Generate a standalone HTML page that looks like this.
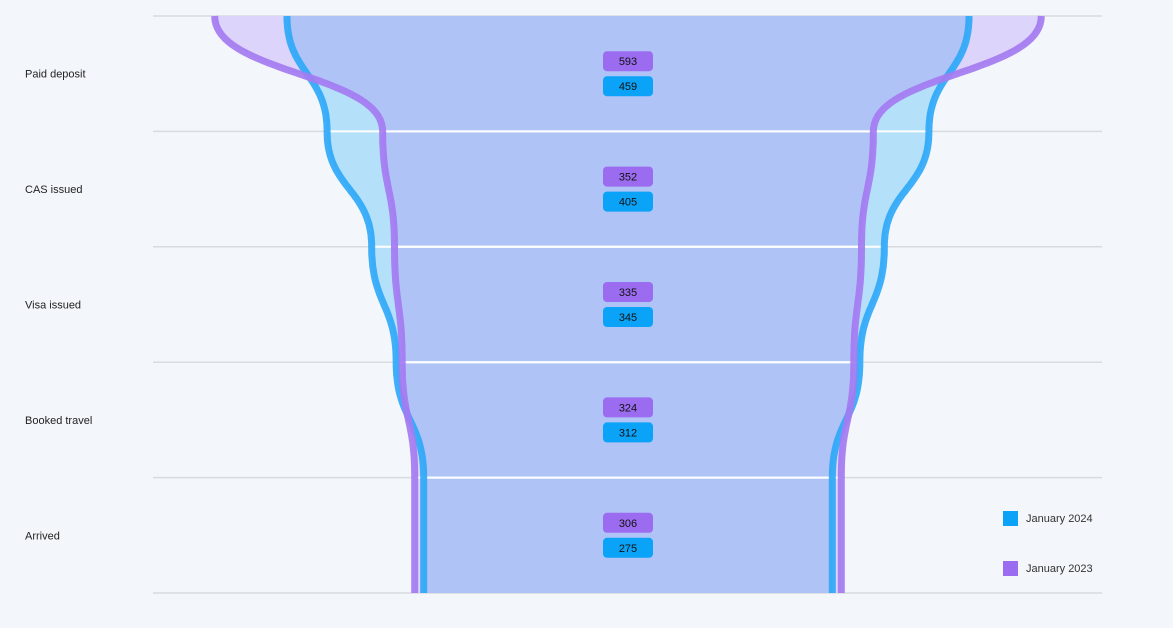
<!DOCTYPE html>
<html><head><meta charset="utf-8"><style>
body{margin:0;background:#f3f6fa;font-family:"Liberation Sans",sans-serif;}
svg{display:block}
</style></head><body>
<svg id="chart" width="1173" height="628" xmlns="http://www.w3.org/2000/svg">
<rect width="1173" height="628" fill="#f3f6fa"/>
<defs>
<clipPath id="clipP"><path id="cpP"/></clipPath>
<clipPath id="clipB"><path id="cpB"/></clipPath>
</defs>
<g id="grid"></g>
<g id="areas"></g>
<g id="whitegrid"></g>
<g id="lines"></g>
<g id="labels"></g>
<g id="legend">
<rect x="1003" y="511" width="15" height="15" fill="#0aa3f7"/>
<text x="1026" y="522" font-size="11" fill="#333">January 2024</text>
<rect x="1003" y="561" width="15" height="15" fill="#9b6cf0"/>
<text x="1026" y="572" font-size="11" fill="#333">January 2023</text>
</g>
</svg>
<script>
const stages = ["Paid deposit","CAS issued","Visa issued","Booked travel","Arrived"];
const jan2023 = [593,352,335,324,306];
const jan2024 = [459,405,345,312,275];
const scale2023 = 0.697;
const scale2024 = 0.743;
const NS="http://www.w3.org/2000/svg";
const cx=628, top0=16, bot=593, xL=153, xR=1102;
const n=stages.length, h=(bot-top0)/n;
const yOf=i=>top0+i*h;
function side(vals,sc,s){
  const pts=[];
  for(let i=0;i<n;i++){
    const y0=yOf(i), y1=yOf(i+1);
    const w0=vals[i]*sc, w1=(i<n-1?vals[i+1]:vals[i])*sc;
    const k=0.5;
    for(let j=0;j<=40;j++){
      const t=j/40, u=1-t;
      const x=u*u*u*w0+3*u*u*t*w0+3*u*t*t*w1+t*t*t*w1;
      const y=u*u*u*y0+3*u*u*t*(y0+k*h)+3*u*t*t*(y1-k*h)+t*t*t*y1;
      pts.push([cx+s*x,y]);
    }
  }
  return pts;
}
function lineD(p){return "M"+p.map(q=>q[0].toFixed(1)+","+q[1].toFixed(1)).join("L");}
function areaD(vals,sc){const l=side(vals,sc,-1),r=side(vals,sc,1).reverse();return lineD(l.concat(r))+"Z";}
function mk(tag,attrs,parent){const e=document.createElementNS(NS,tag);for(const k in attrs)e.setAttribute(k,attrs[k]);parent.appendChild(e);return e;}
const G=id=>document.getElementById(id);
const dP=areaD(jan2023,scale2023), dB=areaD(jan2024,scale2024);
G('cpP').setAttribute('d',dP);G('cpB').setAttribute('d',dB);
for(let i=0;i<=n;i++){
  const l=mk('line',{x1:xL,x2:xR,y1:yOf(i),y2:yOf(i),stroke:'#d8dbdf','stroke-width':1.5},G('grid'));
  
  
}
const aP=mk('path',{d:dP,fill:'#dcd4fa'},G('areas'));


const aB=mk('path',{d:dB,fill:'#b5e0fa'},G('areas'));


const aO=mk('path',{d:dB,fill:'#afc3f7','clip-path':'url(#clipP)'},G('areas'));


for(let i=1;i<n;i++){
  for(const c of ['clipP','clipB']){
    const l=mk('line',{x1:xL,x2:xR,y1:yOf(i),y2:yOf(i),stroke:'#ffffff','stroke-width':2,'clip-path':'url(#'+c+')'},G('whitegrid'));
    
    
  }
}
[[jan2024,scale2024,'#2fa8f7','line-jan-2024'],[jan2023,scale2023,'#a47bf1','line-jan-2023']].forEach(([v,sc,col,nm])=>{
  for(const s of [-1,1]){
    const p=mk('path',{d:lineD(side(v,sc,s)),fill:'none',stroke:col,'stroke-width':7,'stroke-opacity':0.92,'stroke-linejoin':'round'},G('lines'));
    
    
  }
});
for(let i=0;i<n;i++){
  const cy=yOf(i)+h/2;
  const t=mk('text',{x:25,y:cy+4,'font-size':11,fill:'#222'},G('labels'));
  t.textContent=stages[i];
  
  
  [[jan2023[i],'#9b6cf0',-12.5,'badge-jan-2023'],[jan2024[i],'#0aa3f7',12.5,'badge-jan-2024']].forEach(([v,col,dy,nm])=>{
    const g=mk('g',{},G('labels'));
    
    
    mk('rect',{x:603,y:cy+dy-10,width:50,height:20,rx:4,fill:col},g);
    const tx=mk('text',{x:628,y:cy+dy+4,'font-size':11,'text-anchor':'middle',fill:'#111'},g);
    tx.textContent=v;
  });
}
</script>
</body></html>
